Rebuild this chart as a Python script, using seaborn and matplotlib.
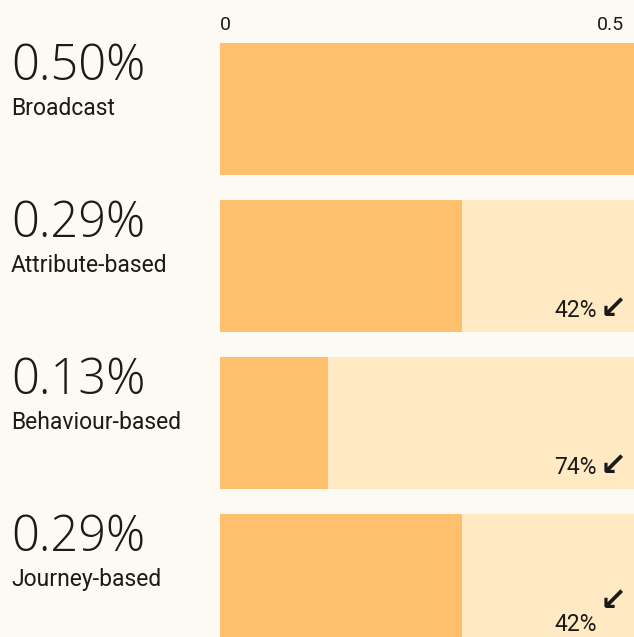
import matplotlib
matplotlib.use("Agg")
import matplotlib.pyplot as plt
import seaborn as sns
import pandas as pd

# Conversion rate per targeting approach (in %)
channels = ["Broadcast", "Attribute-based", "Behaviour-based", "Journey-based"]
rates = [0.50, 0.29, 0.13, 0.29]
reference_rate = 0.50          # broadcast rate, used as the full-width track
tick_values = [0, 0.5]
tick_labels = ["0", "0.5"]

BG = "#fcfaf2"
DARK = "#ffc06e"
LIGHT = "#ffeac3"
INK = "#1a1a1a"

sns.set_theme(style="white")
plt.rcParams["font.family"] = ["Roboto", "DejaVu Sans"]

df = pd.DataFrame({
    "channel": channels,
    "rate": rates,
    "track": [reference_rate] * len(channels),
})
df["drop"] = [round((1 - r / reference_rate) * 100) for r in rates]

W, H = 634, 637
fig = plt.figure(figsize=(W / 100, H / 100), dpi=100, facecolor=BG)

pitch = 157.0           # pixels per category row
bar_w = 132.0 / pitch   # bar thickness as a fraction of the row
top_px = 109 - pitch / 2
left_px = 220
right_px = 637
ax = fig.add_axes([left_px / W, 0, (right_px - left_px) / W, (H - top_px) / H])
ax.set_facecolor(BG)

sns.barplot(data=df, x="track", y="channel", orient="h", color=LIGHT,
            saturation=1, width=bar_w, linewidth=0, edgecolor="none", ax=ax)
sns.barplot(data=df, x="rate", y="channel", orient="h", color=DARK,
            saturation=1, width=bar_w, linewidth=0, edgecolor="none", ax=ax)

ax.set_xlim(0, reference_rate)
ax.set_ylim(-0.5 + (H - top_px) / pitch, -0.5)
for s in ax.spines.values():
    s.set_visible(False)
ax.set_xticks([])
ax.set_yticks([])
ax.set_xlabel("")
ax.set_ylabel("")

# top scale labels
ax.annotate(tick_labels[0], xy=(tick_values[0], 1), xycoords=("data", "axes fraction"),
            xytext=(0, 0), textcoords="offset pixels", ha="left", va="baseline",
            fontsize=14, color=INK)
ax.annotate(tick_labels[1], xy=(tick_values[1], 1), xycoords=("data", "axes fraction"),
            xytext=(-13, 0), textcoords="offset pixels", ha="right", va="baseline",
            fontsize=14, color=INK)

for i, row in df.iterrows():
    bar_top = i - bar_w / 2
    bar_bottom = i + bar_w / 2
    # headline rate and channel name
    ax.annotate(f"{row['rate']:.2f}%", xy=(11 / W, bar_top),
                xycoords=("figure fraction", "data"),
                xytext=(0, -37), textcoords="offset pixels",
                ha="left", va="baseline", fontsize=35, fontweight="light",
                family=["Open Sans", "Roboto"],
                color=INK, annotation_clip=False)
    ax.annotate(row["channel"], xy=(11 / W, bar_top),
                xycoords=("figure fraction", "data"),
                xytext=(0, -72), textcoords="offset pixels",
                ha="left", va="baseline", fontsize=16.5,
                color=INK, annotation_clip=False)
    # drop relative to broadcast
    if row["drop"] > 0:
        ax.annotate(f"{row['drop']}%", xy=(reference_rate, bar_bottom),
                    xycoords="data", xytext=(-40, 15), textcoords="offset pixels",
                    ha="right", va="baseline", fontsize=16.5, color=INK,
                    annotation_clip=False)
        lift = 36 if i == len(df) - 1 else 14
        ax.annotate("\u2199", xy=(reference_rate, bar_bottom),
                    xycoords="data", xytext=(-37, lift), textcoords="offset pixels",
                    ha="left", va="baseline", fontsize=23, fontweight="bold",
                    color=INK, family=["DejaVu Sans"], annotation_clip=False)

fig.savefig("out.png", dpi=100, facecolor=BG)
